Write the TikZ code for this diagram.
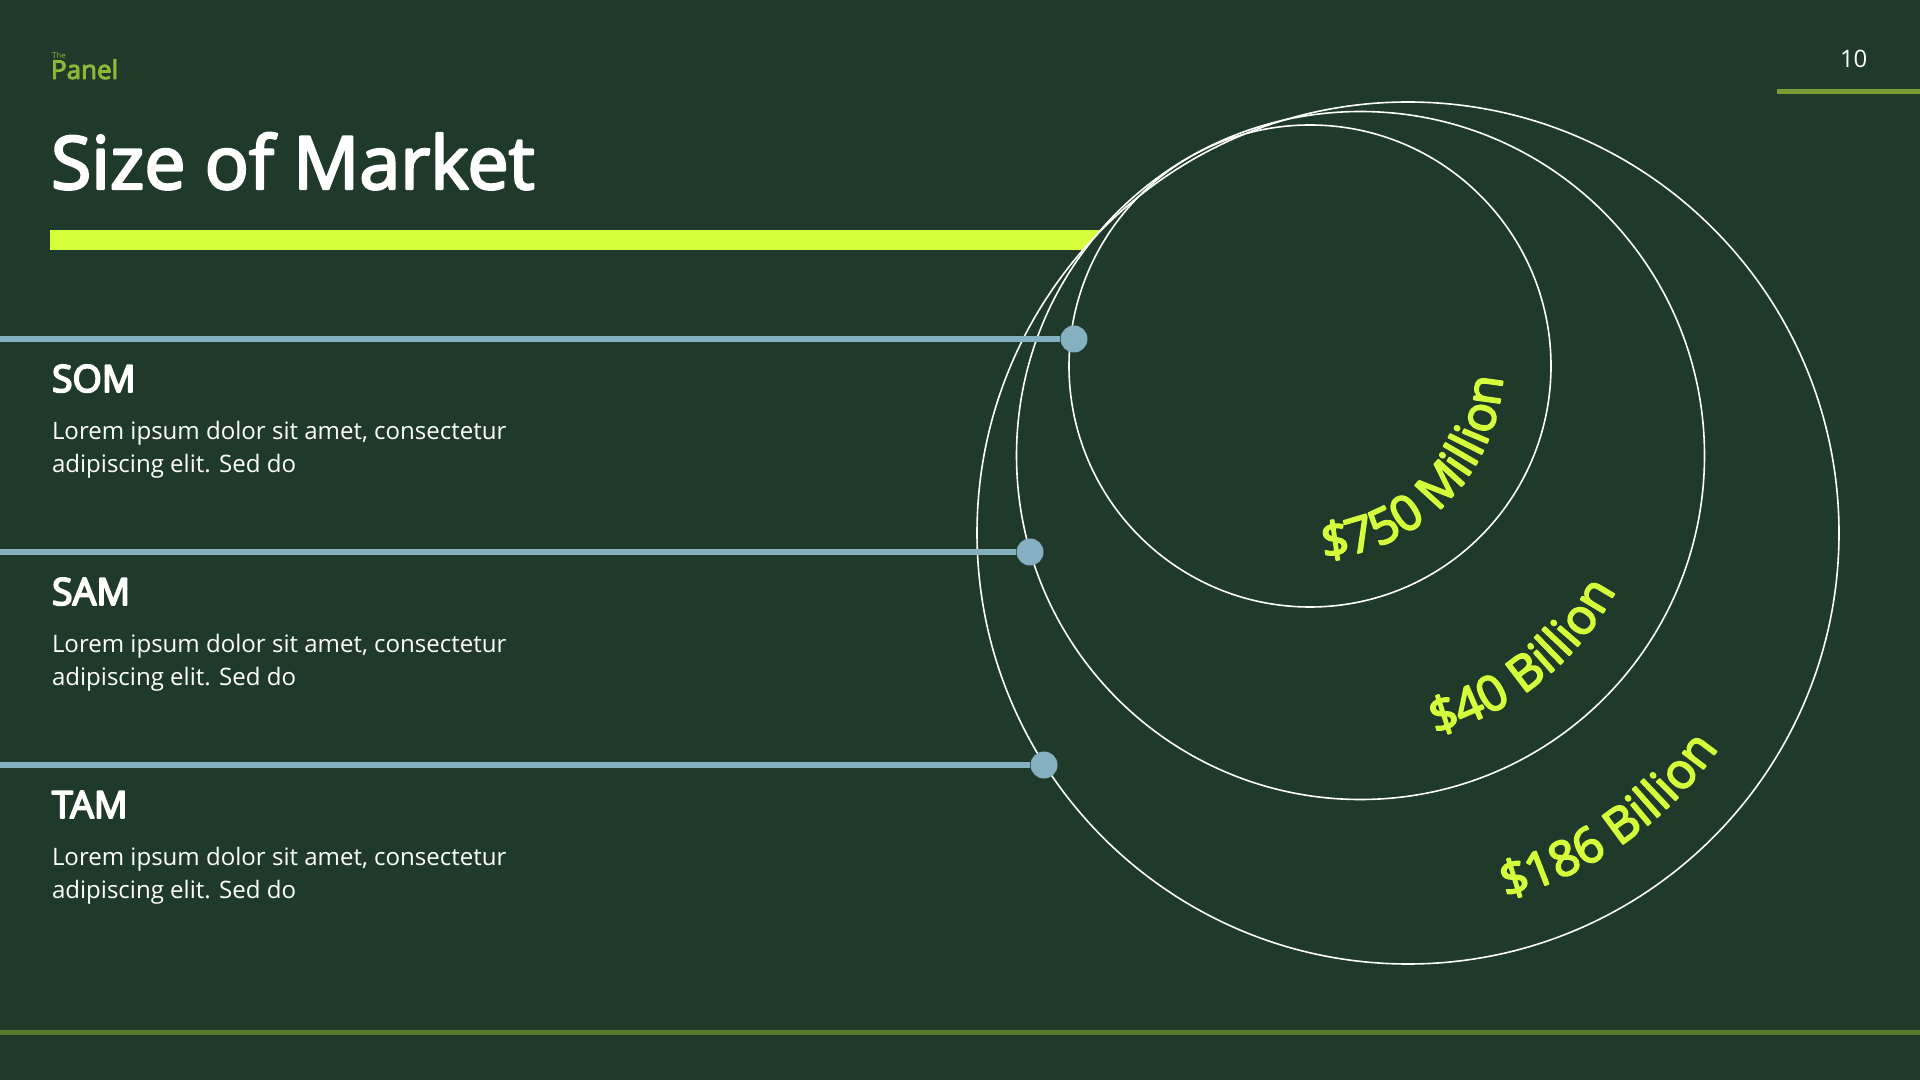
\documentclass[tikz,border=0pt]{standalone}
\usepackage{fontspec}
\setmainfont{Open Sans}
\usetikzlibrary{decorations.text}
\definecolor{bgc}{HTML}{1F3A2B}
\definecolor{lime}{HTML}{D4FF3A}
\definecolor{bluec}{HTML}{84B0C2}
\definecolor{olive}{HTML}{7A9A35}
\definecolor{botline}{HTML}{55792A}
\definecolor{logoc}{HTML}{8DB83A}
\newcommand{\heavier}[1]{\special{pdf:code 2 Tr #1 w 1 j}}
\newcommand{\lblfont}{\fontsize{49}{49}\selectfont\color{lime}\heavier{1.7}}
\newcommand{\dollarsign}{\char36 }
\tikzset{
  ring/.style={draw=white,line width=1.6pt},
  leader/.style={draw=bluec,line width=5.5pt},
  dotn/.style={circle,fill=bluec,inner sep=0pt,minimum size=27pt},
  txt/.style={anchor=base west,inner sep=0pt,outer sep=0pt,text=white},
  heading/.style={txt,font=\fontsize{37.5}{37.5}\selectfont\heavier{1.8}},
  bodytext/.style={txt,font=\fontsize{24.05}{33}\selectfont,align=left}
}
\begin{document}
\begin{tikzpicture}[x=1pt,y=1pt]
\useasboundingbox (0,0) rectangle (1920,1080);
\fill[bgc] (0,0) rectangle (1920,1080);
% bar
\fill[lime] (50,830) rectangle (1110,850);
% rings
\node[circle,ring,fill=bgc,inner sep=0pt,minimum size=862pt] (outer) at (1408,547) {};
\node[circle,ring,inner sep=0pt,minimum size=688pt] (middle) at (1360.5,624.5) {};
\node[circle,ring,inner sep=0pt,minimum size=482pt] (inner) at (1310,714) {};
% lines
\fill[olive] (1777,986) rectangle (1920,991);
\fill[botline] (0,45.5) rectangle (1920,50.5);
% leaders
\coordinate (s1) at (0,741);
\coordinate (s2) at (0,528);
\coordinate (s3) at (0,315);
\node[dotn] (d1) at (1074,741) {};
\node[dotn] (d2) at (1030,528) {};
\node[dotn] (d3) at (1044,315) {};
\draw[leader] (s1) -- (d1);
\draw[leader] (s2) -- (d2);
\draw[leader] (s3) -- (d3);
% text blocks
\node[bodytext,anchor=north west] (b1) at (52,659) {Lorem ipsum dolor sit amet, consectetur\\adipiscing elit. Sed do};
\node[bodytext,anchor=north west] (b2) at (52,446) {Lorem ipsum dolor sit amet, consectetur\\adipiscing elit. Sed do};
\node[bodytext,anchor=north west] (b3) at (52,233) {Lorem ipsum dolor sit amet, consectetur\\adipiscing elit. Sed do};
\node[txt,text=logoc,font=\fontsize{8}{8}\selectfont] (the) at (52,1021) {The};
\node[txt,font=\fontsize{24}{24}\selectfont] (page) at (1840,1012) {10};
% headings
\node[txt,text=logoc,font=\fontsize{26}{26}\selectfont\heavier{0.9}] (panel) at (51,1001) {Panel};
\node[txt,font=\fontsize{73.5}{74}\selectfont\heavier{2.4}] (title) at (51,891) {Size of Market};
\node[heading] (h1) at (52,688) {SOM};
\node[heading] (h2) at (52,475) {SAM};
\node[heading] (h3) at (52,262) {TAM};
% arc labels
\path[postaction={decorate},decoration={text along path,text={|\lblfont|{\dollarsign}750 Million}}] (1310,714) ++(-86:193) arc[start angle=-86,end angle=20,radius=193];
\path[postaction={decorate},decoration={text along path,text={|\lblfont|{\dollarsign}40 Billion}}] (1360.5,624.5) ++(-75:289) arc[start angle=-75,end angle=-10,radius=289];
\path[postaction={decorate},decoration={text along path,text={|\lblfont|{\dollarsign}186 Billion}}] (1408,547) ++(-75:378) arc[start angle=-75,end angle=-20,radius=378];
\end{tikzpicture}
\end{document}
